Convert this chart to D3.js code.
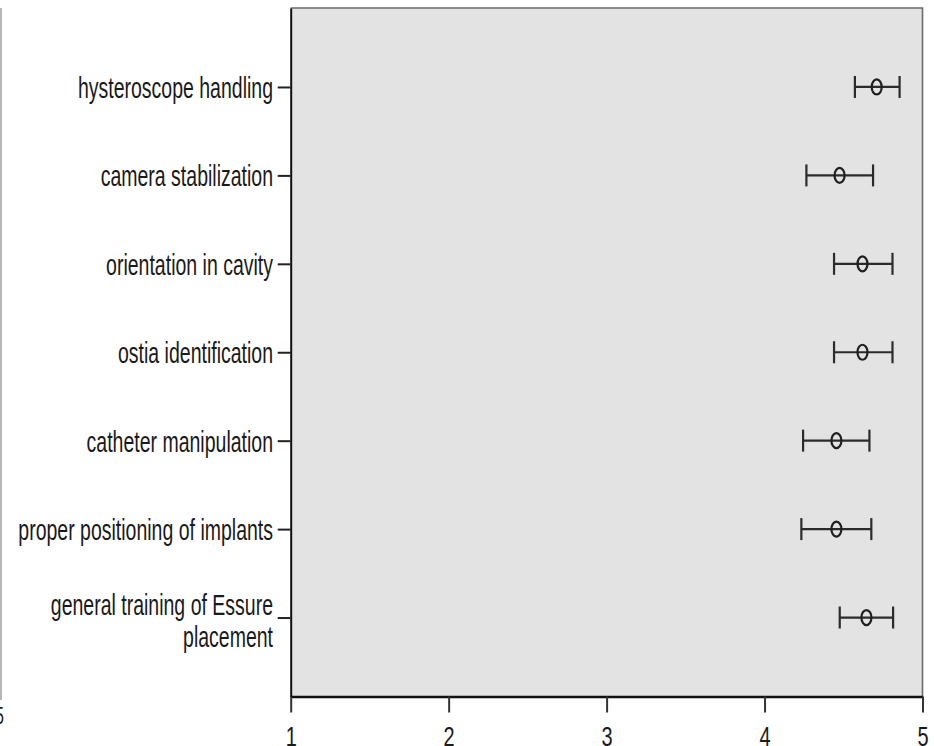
<!DOCTYPE html>
<html>
<head>
<meta charset="utf-8">
<script src="https://cdn.jsdelivr.net/npm/d3@7"></script>
<style>
  html, body { margin: 0; padding: 0; background: #fff; }
  svg { display: block; }
  text { font-family: "Liberation Sans", Arial, sans-serif; fill: #1a1a1a; }
</style>
</head>
<body>
<svg id="chart" width="934" height="746"></svg>
<script>
const categories = [
  "hysteroscope handling",
  "camera stabilization",
  "orientation in cavity",
  "ostia identification",
  "catheter manipulation",
  "proper positioning of implants",
  "general training of Essure placement"
];
const categoryLines = [
  ["hysteroscope handling"],
  ["camera stabilization"],
  ["orientation in cavity"],
  ["ostia identification"],
  ["catheter manipulation"],
  ["proper positioning of implants"],
  ["general training of Essure", "placement"]
];
const means = [4.71, 4.475, 4.62, 4.62, 4.455, 4.455, 4.645];
const lower = [4.572, 4.265, 4.44, 4.44, 4.244, 4.233, 4.476];
const upper = [4.855, 4.687, 4.81, 4.81, 4.664, 4.676, 4.814];
const xTicks = [1, 2, 3, 4, 5];

const svg = d3.select("#chart");
const pLeft = 290.7, pRight = 922.5, pTop = 8, pBottom = 696.5;

const x = d3.scaleLinear().domain([1, 5]).range([pLeft, pRight]);
const y = d3.scalePoint().domain(categories).range([pTop, pBottom]).padding(0.893);

// neighbouring panel fragment at far left
svg.append("line").attr("x1", 1).attr("x2", 1).attr("y1", pTop).attr("y2", 700)
  .attr("stroke", "#b5b5b5").attr("stroke-width", 2);
svg.append("text").attr("transform", "translate(4,724) scale(0.7,1)")
  .attr("text-anchor", "end").attr("font-size", 23).text("5");

// plot background
svg.append("rect").attr("x", pLeft).attr("y", pTop)
  .attr("width", pRight - pLeft).attr("height", pBottom - pTop)
  .attr("fill", "#e3e3e3").attr("stroke", "none");
svg.append("path")
  .attr("d", `M${pLeft},${pTop}H${pRight}V${pBottom}`)
  .attr("fill", "none").attr("stroke", "#6a6a6a").attr("stroke-width", 1.6);

// x axis
const xAxis = d3.axisBottom(x).tickValues(xTicks).tickFormat(d3.format("d"))
  .tickSizeOuter(0).tickSizeInner(16).tickPadding(4);
const gx = svg.append("g").attr("transform", `translate(0,${pBottom})`).call(xAxis);
gx.select(".domain").attr("stroke", "#111").attr("stroke-width", 2.4);
gx.selectAll(".tick line").attr("stroke", "#333").attr("stroke-width", 2);
gx.selectAll(".tick text")
  .attr("y", null).attr("dy", null)
  .attr("transform", `translate(0,${745.5 - pBottom}) scale(0.74,1)`)
  .attr("font-size", 27)
  .attr("font-family", "Liberation Sans, Arial, sans-serif")
  .attr("fill", "#1a1a1a");

// y axis
const yAxis = d3.axisLeft(y).tickSizeOuter(0).tickSizeInner(13).tickFormat("");
const gy = svg.append("g").attr("transform", `translate(${pLeft},0)`).call(yAxis);
gy.select(".domain").attr("stroke", "#111").attr("stroke-width", 2);
gy.selectAll(".tick line").attr("stroke", "#222").attr("stroke-width", 2);

// y labels
categories.forEach((c, i) => {
  const lines = categoryLines[i];
  const yy = y(c);
  const baseOffsets = lines.length === 1 ? [11] : [-3, 29];
  lines.forEach((ln, j) => {
    svg.append("text")
      .attr("transform", `translate(273,${yy + baseOffsets[j]}) scale(0.65,1)`)
      .attr("text-anchor", "end")
      .attr("font-size", 30)
      .text(ln);
  });
});

// error bars
const g = svg.append("g");
const capH = 11;
categories.forEach((c, i) => {
  const yy = y(c);
  g.append("line").attr("x1", x(lower[i])).attr("x2", x(upper[i]))
    .attr("y1", yy).attr("y2", yy).attr("stroke", "#2b2b2b").attr("stroke-width", 2.2);
  [lower[i], upper[i]].forEach(v => {
    g.append("line").attr("x1", x(v)).attr("x2", x(v))
      .attr("y1", yy - capH).attr("y2", yy + capH)
      .attr("stroke", "#2b2b2b").attr("stroke-width", 2.2);
  });
  g.append("ellipse").attr("cx", x(means[i])).attr("cy", yy)
    .attr("rx", 5).attr("ry", 7.5)
    .attr("fill", "none").attr("stroke", "#1f1f1f").attr("stroke-width", 2.2);
});
</script>
</body>
</html>
